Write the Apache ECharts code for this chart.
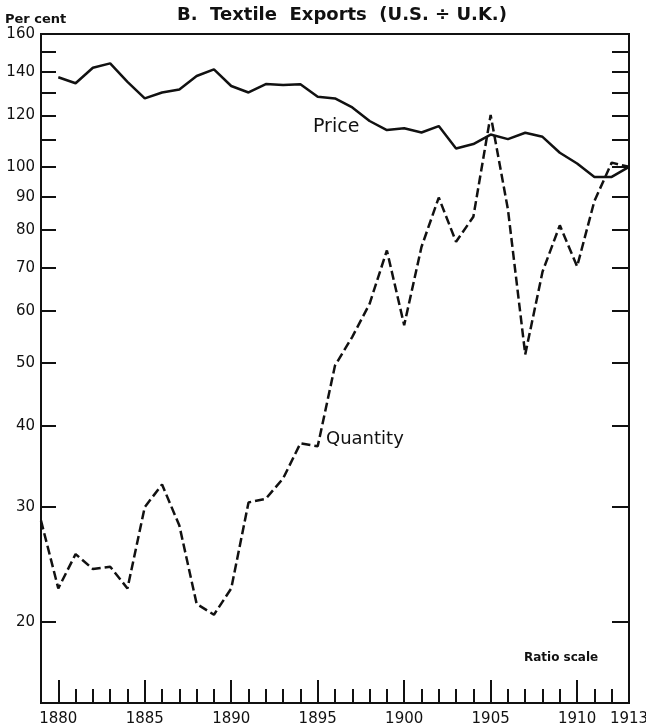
<!DOCTYPE html>
<html>
<head>
<meta charset="utf-8">
<script src="https://cdn.jsdelivr.net/npm/echarts@6/dist/echarts.min.js"></script>
<style>
  html, body { margin: 0; padding: 0; background: #fff; }
  #chart { width: 646px; height: 725px; }
</style>
</head>
<body>
<div id="chart"></div>
<script>
// 价格与数量 (U.S. ÷ U.K.), ratio scale
const priceYears = [];
for (let y = 1880; y <= 1913; y++) priceYears.push(y);
const quantityYears = [];
for (let y = 1879; y <= 1913; y++) quantityYears.push(y);

const price = [
  137.3, 134.4, 142.0, 144.2, 135.1, 127.4, 130.1, 131.5, 137.9, 141.2,
  133.1, 130.1, 134.0, 133.6, 133.9, 128.1, 127.4, 123.4, 117.6, 113.9,
  114.6, 112.9, 115.5, 106.7, 108.4, 112.1, 110.3, 112.8, 111.2, 105.1,
  101.2, 96.5, 96.5, 100.0
];
const quantity = [
  28.6,
  22.5, 25.4, 24.1, 24.3, 22.5, 30.0, 32.5, 28.1, 21.3, 20.5,
  22.5, 30.5, 30.9, 33.2, 37.6, 37.2, 49.5, 54.8, 61.6, 74.4,
  57.1, 75.3, 89.7, 76.7, 83.8, 120.1, 86.0, 51.5, 69.0, 81.3,
  70.3, 88.6, 101.5, 100.0
];

const yTicks = [20, 30, 40, 50, 60, 70, 80, 90, 100, 110, 120, 130, 140, 150, 160];
const yLabels = [20, 30, 40, 50, 60, 70, 80, 90, 100, 120, 140, 160];
const xMinorTicks = [];
for (let y = 1880; y <= 1912; y++) xMinorTicks.push(y);
const xMajorTicks = [1880, 1885, 1890, 1895, 1900, 1905, 1910];
const xLabels = [1880, 1885, 1890, 1895, 1900, 1905, 1910, 1913];

const font = '"DejaVu Sans", sans-serif';
const ink = '#111';

const chart = echarts.init(document.getElementById('chart'));

const option = {
  animation: false,
  grid: {
    left: 41, right: 17, top: 34, bottom: 22,
    outerBoundsMode: 'none',
    show: true, borderColor: ink, borderWidth: 2, backgroundColor: 'transparent'
  },
  xAxis: [
    {
      type: 'value', min: 1879, max: 1913,
      splitLine: { show: false },
      axisLine: { lineStyle: { color: ink, width: 2 } },
      axisTick: { inside: true, length: 14, customValues: xMinorTicks, lineStyle: { color: ink, width: 2 } },
      axisLabel: {
        customValues: xLabels, color: ink, fontSize: 15, fontFamily: font, margin: 9,
        formatter: v => String(v)
      }
    },
    {
      type: 'value', min: 1879, max: 1913, position: 'bottom',
      splitLine: { show: false },
      axisLine: { show: false },
      axisTick: { inside: true, length: 23, customValues: xMajorTicks, lineStyle: { color: ink, width: 2 } },
      axisLabel: { show: false }
    }
  ],
  yAxis: [
    {
      type: 'log', logBase: 10, min: 15, max: 160, position: 'left',
      splitLine: { show: false },
      axisLine: { show: true, lineStyle: { color: ink, width: 2 } },
      axisTick: { inside: true, length: 15, customValues: yTicks, lineStyle: { color: ink, width: 2 } },
      axisLabel: {
        customValues: yLabels, color: ink, fontSize: 15, fontFamily: font, margin: 6,
        formatter: v => String(Math.round(v))
      }
    },
    {
      type: 'log', logBase: 10, min: 15, max: 160, position: 'right',
      splitLine: { show: false },
      axisLine: { show: true, lineStyle: { color: ink, width: 2 } },
      axisTick: { inside: true, length: 17, customValues: yTicks, lineStyle: { color: ink, width: 2 } },
      axisLabel: { show: false }
    }
  ],
  series: [
    {
      name: 'Price', type: 'line', xAxisIndex: 0, yAxisIndex: 0,
      data: priceYears.map((y, i) => [y, price[i]]),
      symbol: 'none',
      lineStyle: { color: ink, width: 2.5, type: 'solid' }
    },
    {
      name: 'Quantity', type: 'line', xAxisIndex: 0, yAxisIndex: 0,
      data: quantityYears.map((y, i) => [y, quantity[i]]),
      symbol: 'none',
      lineStyle: { color: ink, width: 2.5, type: [9, 4] }
    }
  ],
  graphic: [
    { type: 'text', left: 177, top: 6, style: { text: 'B.  Textile  Exports  (U.S. \u00f7 U.K.)', fill: ink, font: 'bold 18px ' + font } },
    { type: 'text', left: 5, top: 13, style: { text: 'Per cent', fill: ink, font: 'bold 13px ' + font } },
    { type: 'text', left: 313, top: 118, style: { text: 'Price', fill: ink, font: '19px ' + font } },
    { type: 'text', left: 326, top: 430, style: { text: 'Quantity', fill: ink, font: '18px ' + font } },
    { type: 'text', left: 524, top: 652, style: { text: 'Ratio scale', fill: ink, font: 'bold 12px ' + font } }
  ]
};

chart.setOption(option);
</script>
</body>
</html>
